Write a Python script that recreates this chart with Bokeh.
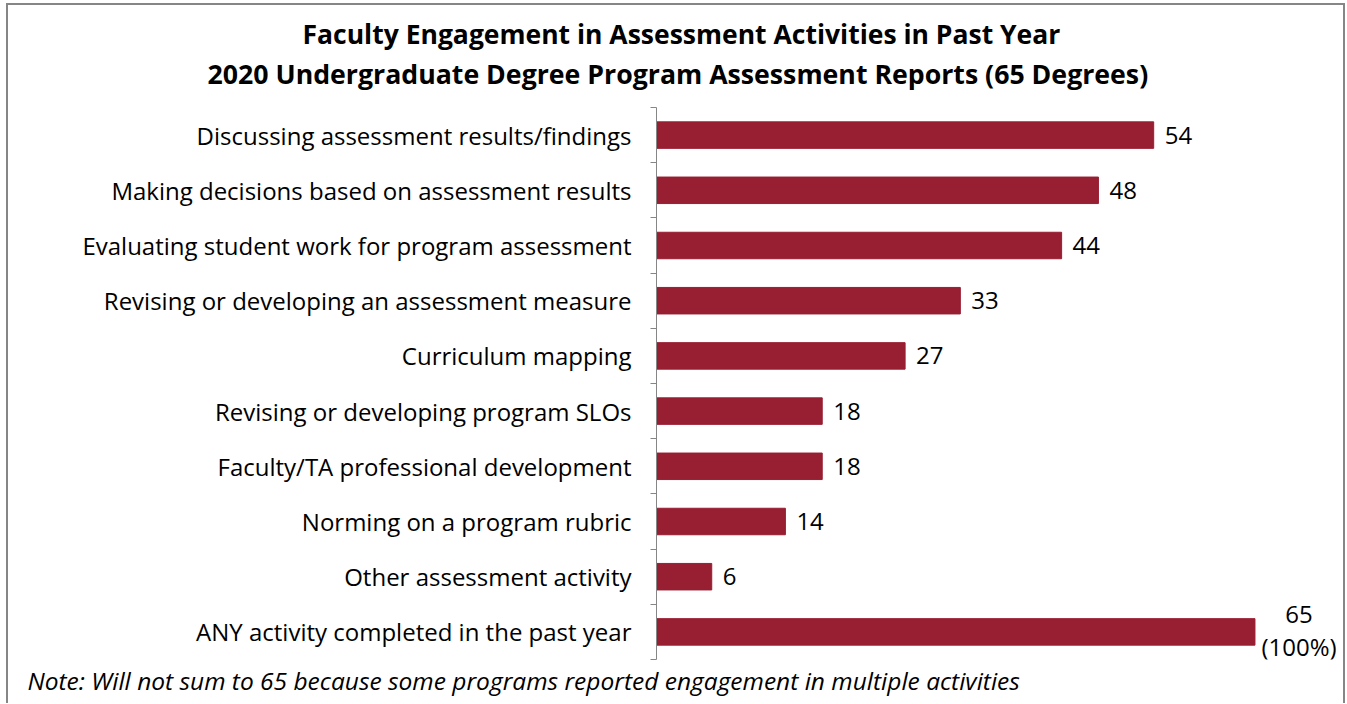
from bokeh.plotting import figure
from bokeh.models import ColumnDataSource, FixedTicker, Range1d, Title
from bokeh.embed import file_html
from bokeh.resources import INLINE
from bokeh.core.properties import value

categories = [
    "Discussing assessment results/findings",
    "Making decisions based on assessment results",
    "Evaluating student work for program assessment",
    "Revising or developing an assessment measure",
    "Curriculum mapping",
    "Revising or developing program SLOs",
    "Faculty/TA professional development",
    "Norming on a program rubric",
    "Other assessment activity",
    "ANY activity completed in the past year",
]
counts = [54, 48, 44, 33, 27, 18, 18, 14, 6, 65]
total_degrees = 65

title_line1 = "Faculty Engagement in Assessment Activities in Past Year"
title_line2 = "2020 Undergraduate Degree Program Assessment Reports (65 Degrees)"
note_text = "Note: Will not sum to 65 because some programs reported engagement in multiple activities"

FONT = "Open Sans"
CRIMSON = "#981E32"
GRAY = "#868686"

n = len(categories)
pos = [n - 1 - i for i in range(n)]

src_main = ColumnDataSource(dict(
    y=pos[:-1], v=counts[:-1], t=[str(c) for c in counts[:-1]]))
src_any = ColumnDataSource(dict(
    y=pos[-1:], v=counts[-1:],
    t=[f"{counts[-1]}\n({round(100 * counts[-1] / total_degrees)}%)"]))
src_bars = ColumnDataSource(dict(y=pos, v=counts))

p = figure(width=1339, height=700, output_backend="svg", toolbar_location=None,
           x_range=Range1d(0, 75.05), y_range=Range1d(-0.5, n - 0.5),
           x_axis_location=None, min_border_left=648, min_border_right=0,
           min_border_top=102, min_border_bottom=46)
p.styles = {"border-style": "solid", "border-color": GRAY,
            "border-width": "2px 2px 0 2px", "box-sizing": "border-box",
            "margin-left": "6px", "margin-top": "3px"}
p.outline_line_color = None
p.xgrid.visible = False
p.ygrid.visible = False

p.hbar(y="y", right="v", left=0, height=0.48, source=src_bars,
       fill_color=CRIMSON, line_color=CRIMSON)

p.text(x="v", y="y", text="t", source=src_main, x_offset=11,
       text_align="left", text_baseline="middle",
       text_font=value(FONT), text_font_size="24px", text_color="black")
p.text(x="v", y="y", text="t", source=src_any, x_offset=44, y_offset=-2,
       text_align="center", text_baseline="middle", text_line_height=1.0,
       text_font=value(FONT), text_font_size="24px", text_color="black")

ax = p.yaxis[0]
ax.ticker = FixedTicker(ticks=pos, minor_ticks=[k - 0.5 for k in range(n + 1)])
ax.major_label_overrides = {float(pp): c for pp, c in zip(pos, categories)}
ax.major_tick_out = 0
ax.major_tick_in = 0
ax.minor_tick_out = 6
ax.minor_tick_in = 0
ax.minor_tick_line_color = GRAY
ax.axis_line_color = GRAY
ax.major_label_standoff = 19
ax.major_label_text_font = FONT
ax.major_label_text_font_size = "24px"
ax.major_label_text_color = "black"

# subtitle first (closest to the plot), then main title
p.add_layout(Title(text=title_line2, align="left", offset=-449, standoff=31,
                   text_font=FONT, text_font_size="26.7px",
                   text_font_style="bold", text_color="black"), "above")
p.add_layout(Title(text=title_line1, align="left", offset=-354, standoff=-28,
                   text_font=FONT, text_font_size="26.5px",
                   text_font_style="bold", text_color="black"), "above")

p.add_layout(Title(text=note_text, align="left", offset=-629, standoff=4,
                   text_font=FONT, text_font_size="24.5px",
                   text_font_style="italic", text_color="black"), "below")

open("out.html", "w").write(file_html(p, INLINE))
